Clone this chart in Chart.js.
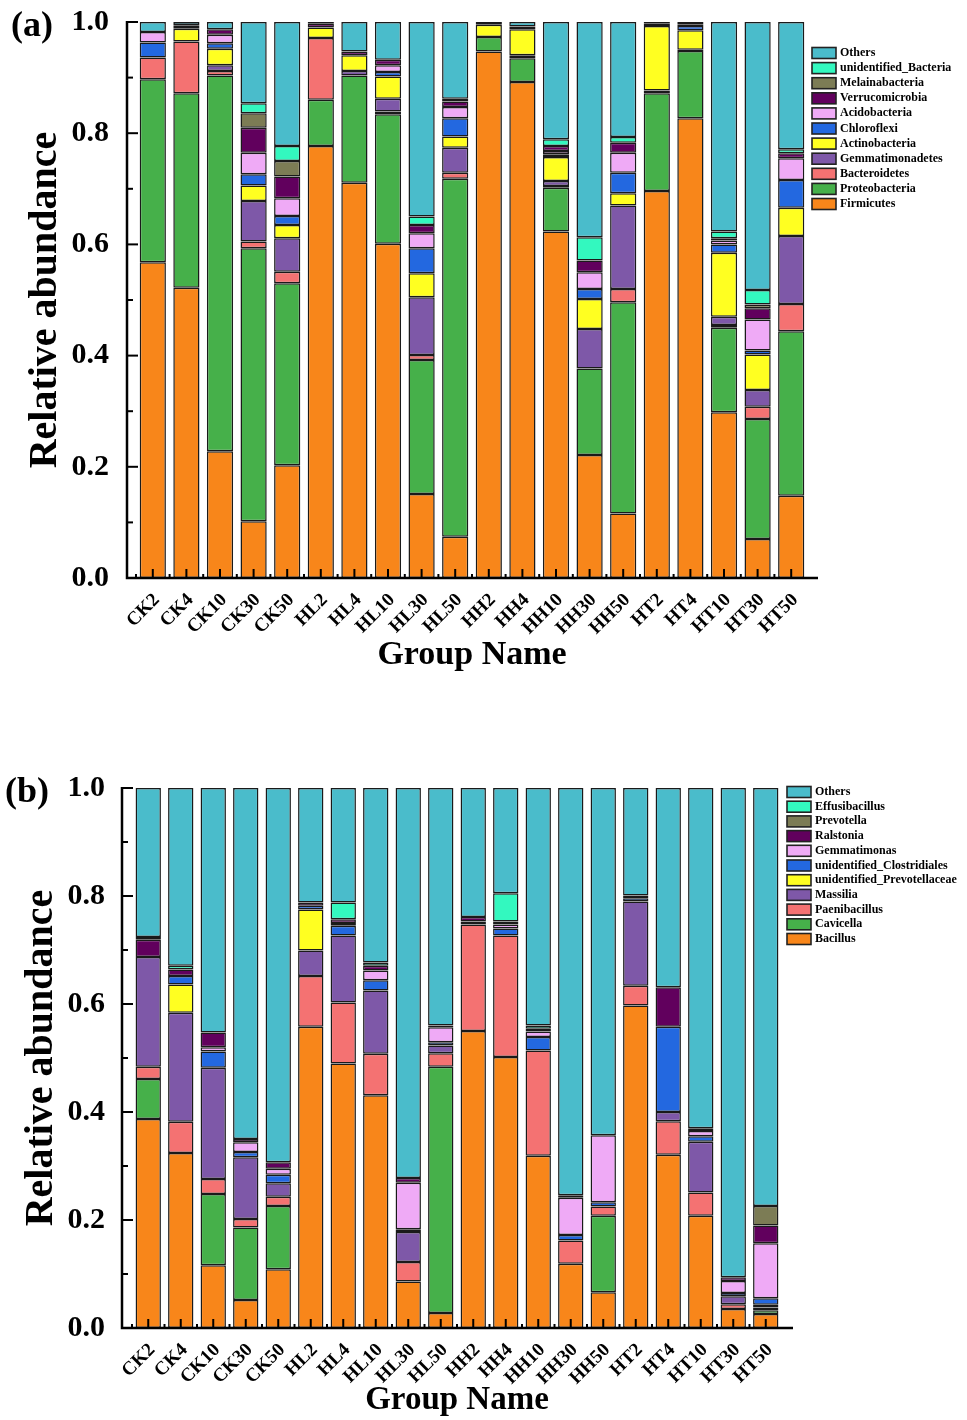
<!DOCTYPE html>
<html>
<head>
<meta charset="utf-8">
<script src="https://cdn.jsdelivr.net/npm/chart.js@4.4.1/dist/chart.umd.min.js"></script>
<style>
  body { margin: 0; background: #fff; width: 967px; height: 1420px; position: relative; overflow: hidden; }
  .panel { position: absolute; left: 0; }
  .tag { position: absolute; font: bold 36px "Liberation Serif", serif; color: #000; z-index: 2; }
</style>
</head>
<body>
<div class="panel" style="top:-18px;"><canvas id="chartA" width="967" height="728"></canvas></div>
<div class="panel" style="top:715px;"><canvas id="chartB" width="967" height="705"></canvas></div>
<div class="tag" style="left:11px;top:3px;">(a)</div>
<div class="tag" style="left:5px;top:769px;">(b)</div>
<script>
const groups = ['CK2', 'CK4', 'CK10', 'CK30', 'CK50', 'HL2', 'HL4', 'HL10', 'HL30', 'HL50',
                'HH2', 'HH4', 'HH10', 'HH30', 'HH50', 'HT2', 'HT4', 'HT10', 'HT30', 'HT50'];
const yTicks = [0, 0.2, 0.4, 0.6, 0.8, 1.0];

// same colour for the n-th taxon in both panels, bottom to top
const palette = ['#f8861a', '#46b04a', '#f47272', '#7e58a8', '#ffff21', '#2368e0',
                 '#efaaf6', '#61005d', '#7c7c55', '#33f8bf', '#4abccb'];

// (a) phylum level
const phylumNames = ['Firmicutes', 'Proteobacteria', 'Bacteroidetes', 'Gemmatimonadetes', 'Actinobacteria',
                     'Chloroflexi', 'Acidobacteria', 'Verrucomicrobia', 'Melainabacteria', 'unidentified_Bacteria', 'Others'];
const firmicutes       = [.568, .522, .228, .102, .203, .777, .711, .601, .151, .074, .947, .892, .623, .221, .116, .696, .827, .298, .070, .148];
const proteobacteria   = [.329, .350, .676, .491, .327, .083, .193, .233, .241, .644, .026, .043, .079, .156, .380, .176, .121, .152, .216, .296];
const bacteroidetes    = [.039, .093, .008, .012, .021, .111, 0, .005, .009, .011, 0, 0, .003, 0, .024, 0, 0, .005, .022, .049];
const gemmatimonadetes = [0, 0, .010, .073, .060, 0, .008, .023, .104, .045, 0, .005, .009, .071, .150, .005, .002, .015, .030, .122];
const actinobacteria   = [0, .023, .030, .028, .024, .019, .028, .040, .043, .020, .022, .047, .043, .054, .022, .116, .035, .115, .064, .051];
const chloroflexi      = [.027, 0, .010, .020, .016, 0, 0, .008, .045, .033, 0, 0, .005, .018, .037, 0, .008, .015, .007, .050];
const acidobacteria    = [.019, 0, .015, .039, .032, 0, 0, .012, .027, .020, 0, 0, .006, .030, .036, 0, 0, .007, .056, .039];
const verrucomicrobia  = [0, .005, .010, .045, .039, .007, .007, .010, .015, .010, .003, .005, .009, .021, .018, .004, .002, .004, .020, .009];
const melainabacteria  = [0, 0, 0, .026, .028, 0, 0, 0, 0, 0, 0, 0, 0, 0, 0, 0, 0, 0, .007, 0];
const unidentifiedBact = [0, .001, 0, .018, .027, 0, 0, 0, .015, .005, 0, 0, .012, .042, .010, 0, 0, .012, .026, .007];
const othersA          = [.018, .006, .013, .146, .223, .003, .053, .068, .350, .138, .002, .008, .211, .387, .207, .003, .005, .377, .482, .229];

// (b) genus level
const genusNames = ['Bacillus', 'Cavicella', 'Paenibacillus', 'Massilia', 'unidentified_Prevotellaceae',
                    'unidentified_Clostridiales', 'Gemmatimonas', 'Ralstonia', 'Prevotella', 'Effusibacillus', 'Others'];
const bacillus       = [.387, .324, .116, .052, .109, .558, .490, .431, .086, .028, .550, .502, .319, .119, .066, .597, .321, .208, .035, .026];
const cavicella      = [.074, 0, .132, .134, .117, 0, 0, 0, 0, .456, 0, 0, 0, 0, .142, 0, 0, 0, 0, .007];
const paenibacillus  = [.023, .058, .028, .016, .017, .094, .113, .077, .036, .025, .197, .225, .195, .043, .017, .037, .062, .043, .009, .005];
const massilia       = [.203, .202, .206, .114, .025, .047, .124, .117, .056, .014, .006, 0, 0, 0, 0, .156, .017, .094, .015, .005];
const prevotellaceae = [0, .052, 0, 0, 0, .076, 0, 0, 0, 0, 0, 0, 0, 0, 0, 0, 0, 0, 0, 0];
const clostridiales  = [0, .016, .030, .010, .016, .007, .018, .019, .005, .006, 0, .013, .025, .010, .008, .006, .158, .010, .006, .012];
const gemmatimonas   = [0, 0, .008, .018, .011, 0, .005, .018, .086, .028, 0, .007, .010, .069, .124, 0, 0, .010, .022, .102];
const ralstonia      = [.032, .012, .027, .006, .012, .006, .007, .009, .009, .003, .008, .006, .005, .005, 0, .005, .073, .005, .007, .033];
const prevotella     = [0, 0, 0, 0, 0, 0, 0, 0, 0, 0, 0, 0, 0, 0, 0, 0, 0, 0, 0, .036];
const effusibacillus = [.005, .007, 0, 0, 0, 0, .031, .006, 0, 0, 0, .052, .006, 0, 0, 0, 0, 0, 0, 0];
const othersB        = [.276, .329, .453, .650, .693, .212, .212, .323, .722, .440, .239, .195, .440, .754, .643, .199, .369, .630, .906, .774];

const phylumSeries = [firmicutes, proteobacteria, bacteroidetes, gemmatimonadetes, actinobacteria,
                      chloroflexi, acidobacteria, verrucomicrobia, melainabacteria, unidentifiedBact, othersA];
const genusSeries = [bacillus, cavicella, paenibacillus, massilia, prevotellaceae,
                     clostridiales, gemmatimonas, ralstonia, prevotella, effusibacillus, othersB];

Chart.defaults.font.family = '"Liberation Serif", "Times New Roman", serif';
Chart.defaults.color = '#000';

// axis lines, inward ticks and the boxed legend
const frame = {
  id: 'frame',
  afterDraw(chart, args, o) {
    const { ctx, chartArea: ca, scales: { x, y } } = chart;
    const left = ca.left - o.gapLeft;
    const right = ca.right + o.gapRight;
    ctx.save();
    ctx.strokeStyle = '#000';
    ctx.lineWidth = 2.5;
    ctx.beginPath();
    ctx.moveTo(left, ca.top - 1);
    ctx.lineTo(left, ca.bottom);
    ctx.lineTo(right, ca.bottom);
    ctx.stroke();

    ctx.lineWidth = 2;
    for (let i = 0; i <= 10; i++) {
      const py = y.getPixelForValue(i / 10);
      const len = i % 2 === 0 ? 11 : 6;
      ctx.beginPath();
      ctx.moveTo(left, py);
      ctx.lineTo(left + len, py);
      ctx.stroke();
    }
    const half = (x.getPixelForValue(1) - x.getPixelForValue(0)) / 2;
    chart.data.labels.forEach((g, i) => {
      const px = x.getPixelForValue(i);
      ctx.beginPath();
      ctx.moveTo(px, ca.bottom);
      ctx.lineTo(px, ca.bottom - 9);
      ctx.moveTo(px - half, ca.bottom);
      ctx.lineTo(px - half, ca.bottom - 4);
      ctx.stroke();
    });

    const items = chart.data.datasets.slice().reverse();
    ctx.font = 'bold 12px "Liberation Serif"';
    ctx.textBaseline = 'middle';
    ctx.lineWidth = 1.6;
    items.forEach((ds, i) => {
      const cy = o.legendTop + i * o.rowH;
      ctx.fillStyle = ds.backgroundColor;
      ctx.fillRect(o.legendX, cy - 5.5, 24, 11);
      ctx.strokeStyle = '#222';
      ctx.strokeRect(o.legendX, cy - 5.5, 24, 11);
      ctx.fillStyle = '#000';
      ctx.fillText(ds.label, o.legendX + 28, cy);
    });
    ctx.restore();
  }
};

function makeChart(id, names, series, box) {
  const datasets = series.map((values, i) => ({
    label: names[i],
    data: values,
    backgroundColor: palette[i],
    borderColor: '#1a1a1a',
    borderWidth: 1.5,
    borderSkipped: false,
    barPercentage: 0.78,
    categoryPercentage: 1
  }));

  return new Chart(document.getElementById(id), {
    type: 'bar',
    data: { labels: groups, datasets: datasets },
    options: {
      responsive: false,
      animation: false,
      layout: { padding: { top: box.top, right: box.right, left: 0, bottom: 0 } },
      plugins: {
        legend: { display: false },
        tooltip: { enabled: false },
        frame: box
      },
      scales: {
        x: {
          stacked: true,
          grid: { display: false },
          border: { display: false },
          afterFit: (scale) => { scale.height = box.xHeight; },
          ticks: {
            autoSkip: false,
            minRotation: 45,
            maxRotation: 45,
            padding: 3,
            labelOffset: 4,
            font: { size: 19, weight: 'bold' }
          },
          title: {
            display: true,
            text: 'Group Name',
            font: { size: box.titleSize, weight: 'bold' },
            padding: { top: 0, bottom: box.xTitlePad }
          }
        },
        y: {
          stacked: true,
          min: 0,
          max: 1,
          grid: { display: false },
          border: { display: false },
          afterFit: (scale) => { scale.width = box.yWidth; },
          afterBuildTicks: (scale) => { scale.ticks = yTicks.map(v => ({ value: v })); },
          ticks: {
            padding: box.yLabelPad,
            font: { size: 30, weight: 'bold' },
            callback: (v) => Number(v).toFixed(1)
          },
          title: {
            display: true,
            text: 'Relative abundance',
            font: { size: 40, weight: 'bold' },
            padding: { top: box.yTitlePad, bottom: 0 }
          }
        }
      }
    },
    plugins: [frame]
  });
}

makeChart('chartA', phylumNames, phylumSeries, {
  top: 40, right: 159, yWidth: 136, xHeight: 132,
  gapLeft: 9, gapRight: 10, yLabelPad: 19, yTitlePad: 22,
  titleSize: 34, xTitlePad: 34,
  legendX: 812, legendTop: 71, rowH: 15.1
});

makeChart('chartB', genusNames, genusSeries, {
  top: 73, right: 185, yWidth: 132, xHeight: 92,
  gapLeft: 10, gapRight: 11, yLabelPad: 19, yTitlePad: 18,
  titleSize: 33, xTitlePad: 0,
  legendX: 787, legendTop: 77, rowH: 14.7
});
</script>
</body>
</html>
